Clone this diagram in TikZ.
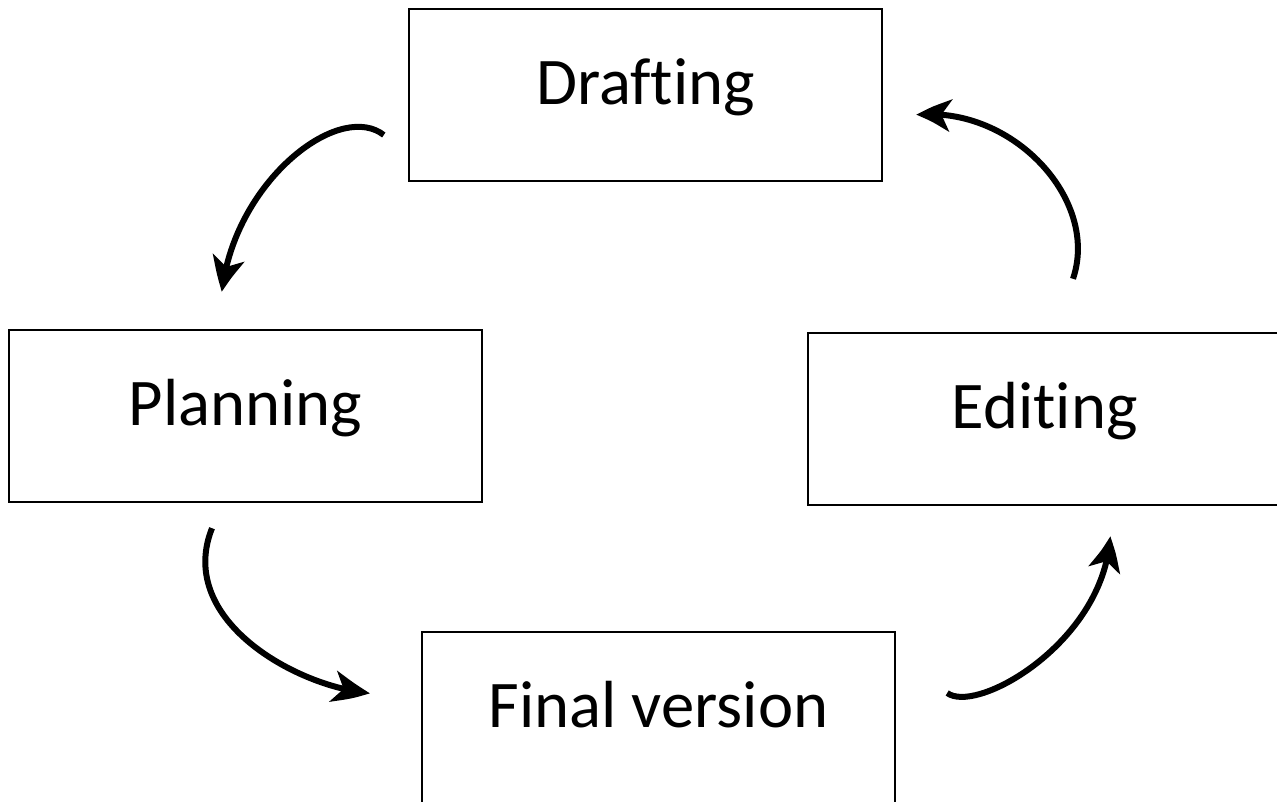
\documentclass[tikz,border=0pt]{standalone}
\usepackage{fontspec}
\setmainfont{Carlito}[Ligatures={NoCommon}]
\usetikzlibrary{arrows.meta, bending}

\begin{document}
\begin{tikzpicture}[
            x=0.75pt, y=-0.75pt, % 以像素为单位, y 轴向下
            stage/.style={
                rectangle, % 矩形节点
                draw, % 绘制边框
                line width=1.8pt, % 边框粗细
                minimum width=354.75pt, % 宽度
                minimum height=129pt, % 高度
                inner sep=0, % 内边距为 0
                text height=25.5pt, % 文字偏上
                text depth=12pt,
                font=\fontsize{50}{60}\selectfont % 字体大小
            },
            curvearrow/.style={
                line width=4.5pt, % 箭头线粗细
                -{Stealth[length=26pt, width=24pt, inset=7pt, bend]} % 箭头样式
            }
        ]

        \clip (0,0) rectangle (1277,801); % 画布范围

        % 四个阶段
        \node[stage] (draft) at (645.5,95) {Drafting};
        \node[stage] (plan) at (245.5,416) {Planning};
        \node[stage] (edit) at (1044.5,419) {Editing};
        \node[stage] (final) at (658.5,718) {Final version};

        % 循环箭头
        \draw[curvearrow] ([shift={(-24,40)}]draft.west)
            .. controls +(-45,-35) and +(12,-110) .. ([shift={(-23.5,-37)}]plan.north);
        \draw[curvearrow] ([shift={(-33.5,25)}]plan.south)
            .. controls +(-37,93) and +(-70,-5) .. ([shift={(-51,-25)}]final.west);
        \draw[curvearrow] ([shift={(51,-25)}]final.east)
            .. controls +(30,22) and +(-5,105) .. ([shift={(65.5,30)}]edit.south);
        \draw[curvearrow] ([shift={(28.5,-53)}]edit.north)
            .. controls +(27,-80) and +(95,-10) .. ([shift={(33,20)}]draft.east);
\end{tikzpicture}
\end{document}
